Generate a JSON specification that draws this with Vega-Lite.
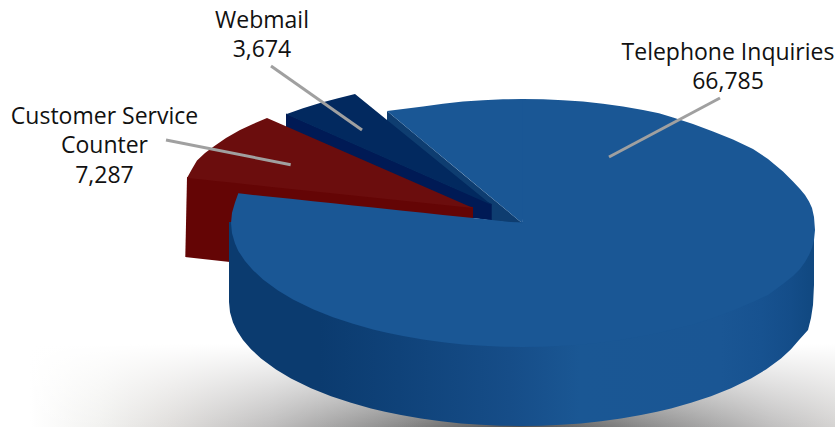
{
  "$schema": "https://vega.github.io/schema/vega-lite/v6.json",
  "width": 835,
  "height": 427,
  "padding": 0,
  "autosize": {"type": "none"},
  "background": "#ffffff",
  "view": {"stroke": null},
  "datasets": {
    "floorShadow": [
      {"x": 20, "y": 335, "y2": 427},
      {"x": 1020, "y": 335, "y2": 427}
    ],
    "telephoneWall": [
      {"x":229,"y":222,"y2":302},{"x":230,"y":222,"y2":312.3},{"x":233,"y":222,"y2":322.4},{"x":237,"y":222,"y2":330.8},{"x":243,"y":222,"y2":339.9},{"x":251,"y":222,"y2":349.2},{"x":261,"y":222,"y2":358.4},{"x":276,"y":222,"y2":369.5},{"x":291,"y":222,"y2":378.4},{"x":311,"y":222,"y2":388.2},{"x":331,"y":222,"y2":396.2},{"x":351,"y":222,"y2":402.8},{"x":371,"y":222,"y2":408.4},{"x":385,"y":222,"y2":411.7},{"x":401,"y":222,"y2":415},{"x":421,"y":222,"y2":418.5},{"x":441,"y":222,"y2":421.3},{"x":461,"y":222,"y2":423.4},{"x":481,"y":222,"y2":424.8},{"x":501,"y":222,"y2":425.7},{"x":521,"y":222,"y2":426},{"x":541,"y":222,"y2":425.7},{"x":561,"y":222,"y2":424.8},{"x":581,"y":222,"y2":423.4},{"x":601,"y":222,"y2":421.3},{"x":621,"y":222,"y2":418.5},{"x":641,"y":222,"y2":415},{"x":657,"y":222,"y2":411.7},{"x":671,"y":222,"y2":408.4},{"x":691,"y":222,"y2":402.8},{"x":711,"y":222,"y2":396.2},{"x":731,"y":222,"y2":388.2},{"x":751,"y":222,"y2":378.4},{"x":766,"y":222,"y2":369.5},{"x":781,"y":222,"y2":358.4},{"x":791,"y":222,"y2":349.2},{"x":799,"y":222,"y2":339.9},{"x":808,"y":222,"y2":330},{"x":811,"y":222,"y2":318},{"x":813,"y":222,"y2":305},{"x":814,"y":222,"y2":285}
    ],
    "telephoneCutWall": [
      {"x":387,"y":111,"y2":125},{"x":491.7,"y":197.9,"y2":221},{"x":522.3,"y":223.3,"y2":223.3}
    ],
    "webmailCutWall": [
      {"x":286,"y":113.5,"y2":127},{"x":473,"y":196,"y2":218},{"x":491.7,"y":204,"y2":220.5}
    ],
    "webmailTop": [
      {"x":286,"y":114.3,"y2":114.3},{"x":303,"y":108.2,"y2":121.8},{"x":320,"y":103,"y2":129.3},{"x":338,"y":98.2,"y2":137.2},{"x":355,"y":94,"y2":144.7},{"x":491.7,"y":205,"y2":205}
    ],
    "counterWall": [
      {"x":185.3,"y":256.9,"y2":257},{"x":187,"y":177,"y2":257.2},{"x":230,"y":181.5,"y2":262},{"x":473,"y":207,"y2":218.5}
    ],
    "counterTop": [
      {"x":187,"y":178,"y2":178},{"x":192,"y":169,"y2":178.5},{"x":197,"y":160.5,"y2":179},{"x":205,"y":153,"y2":179.8},{"x":213,"y":147,"y2":180.7},{"x":226,"y":138,"y2":182.1},{"x":240,"y":130,"y2":183.5},{"x":253,"y":124,"y2":184.9},{"x":267,"y":118,"y2":186.4},{"x":473,"y":208,"y2":208}
    ],
    "telephoneTop": [
      {"piece":"back","x":387,"y":111,"y2":111},{"piece":"back","x":403,"y":109,"y2":124.3},{"piece":"back","x":423,"y":106.5,"y2":140.9},{"piece":"back","x":443,"y":103.7,"y2":157.5},{"piece":"back","x":463,"y":101.6,"y2":174.1},{"piece":"back","x":483,"y":100.2,"y2":190.7},{"piece":"back","x":503,"y":99.3,"y2":207.3},{"piece":"back","x":522.3,"y":99,"y2":223.3},{"piece":"back","x":526,"y":99,"y2":200},
      {"piece":"front","x":231,"y":223,"y2":223},{"piece":"front","x":232,"y":212.7,"y2":233.3},{"piece":"front","x":235,"y":202.6,"y2":243.4},{"piece":"front","x":238.3,"y":193.3,"y2":251},{"piece":"front","x":245,"y":194,"y2":260.9},{"piece":"front","x":253,"y":194.9,"y2":270.2},{"piece":"front","x":263,"y":195.9,"y2":279.4},{"piece":"front","x":278,"y":197.5,"y2":290.5},{"piece":"front","x":293,"y":199.1,"y2":299.4},{"piece":"front","x":313,"y":201.2,"y2":309.2},{"piece":"front","x":333,"y":203.3,"y2":317.2},{"piece":"front","x":353,"y":205.4,"y2":323.8},{"piece":"front","x":373,"y":207.6,"y2":329.4},{"piece":"front","x":387,"y":209,"y2":332.7},{"piece":"front","x":403,"y":210.7,"y2":336},{"piece":"front","x":423,"y":212.8,"y2":339.5},{"piece":"front","x":443,"y":214.9,"y2":342.3},{"piece":"front","x":463,"y":217,"y2":344.4},{"piece":"front","x":483,"y":219.1,"y2":345.8},{"piece":"front","x":503,"y":221.2,"y2":346.7},{"piece":"front","x":522.3,"y":223.3,"y2":347},{"piece":"front","x":522.3,"y":99,"y2":347},{"piece":"front","x":543,"y":99.3,"y2":346.7},{"piece":"front","x":563,"y":100.2,"y2":345.8},{"piece":"front","x":583,"y":101.6,"y2":344.4},{"piece":"front","x":603,"y":103.7,"y2":342.3},{"piece":"front","x":623,"y":106.5,"y2":339.5},{"piece":"front","x":643,"y":110,"y2":336},{"piece":"front","x":659,"y":113.3,"y2":332.7},{"piece":"front","x":673,"y":117.5,"y2":329.4},{"piece":"front","x":693,"y":124,"y2":324.5},{"piece":"front","x":713,"y":131.5,"y2":318},{"piece":"front","x":733,"y":139.5,"y2":310.5},{"piece":"front","x":753,"y":149,"y2":302},{"piece":"front","x":768,"y":159,"y2":295},{"piece":"front","x":783,"y":171.5,"y2":284},{"piece":"front","x":793,"y":181.5,"y2":276},{"piece":"front","x":800,"y":189,"y2":269},{"piece":"front","x":805,"y":195,"y2":262},{"piece":"front","x":809,"y":201.5,"y2":255},{"piece":"front","x":812,"y":208,"y2":248},{"piece":"front","x":814,"y":217,"y2":240},{"piece":"front","x":815,"y":230,"y2":230}
    ],
    "leaders": [
      {"channel":"Webmail","x":271,"y":66,"x2":362,"y2":130},
      {"channel":"Customer Service Counter","x":166,"y":140,"x2":290.7,"y2":164.7},
      {"channel":"Telephone Inquiries","x":720,"y":98,"x2":609,"y2":157}
    ],
    "nameLines": [
      {"line":"Telephone Inquiries","x":728,"y":60},
      {"line":"Webmail","x":262,"y":28},
      {"line":"Customer Service","x":104.5,"y":124},
      {"line":"Counter","x":104.5,"y":153}
    ],
    "counts": [
      {"channel":"Telephone Inquiries","count":66785,"x":728,"y":89},
      {"channel":"Webmail","count":3674,"x":262,"y":57},
      {"channel":"Customer Service Counter","count":7287,"x":104.5,"y":183}
    ]
  },
  "encoding": {
    "x": {"field": "x", "type": "quantitative", "scale": {"domain": [0, 835], "nice": false, "zero": false}, "axis": null},
    "y": {"field": "y", "type": "quantitative", "scale": {"domain": [0, 427], "nice": false, "zero": false, "reverse": true}, "axis": null, "stack": null}
  },
  "layer": [
    {
      "description": "Floor shadow: horizontal falloff",
      "data": {"name": "floorShadow"},
      "mark": {"type": "area", "orient": "vertical", "clip": true, "color": {"gradient": "linear", "x1": 0, "y1": 0, "x2": 1, "y2": 0, "stops": [
        {"offset": 0, "color": "#ffffff"}, {"offset": 0.01, "color": "#ffffff"}, {"offset": 0.08, "color": "#f2f2f0"}, {"offset": 0.15, "color": "#e0dedc"}, {"offset": 0.25, "color": "#c0bfbf"}, {"offset": 0.38, "color": "#8a8a8a"}, {"offset": 0.5, "color": "#4f4f4f"}, {"offset": 0.62, "color": "#8a8a8a"}, {"offset": 0.75, "color": "#c0bfbf"}, {"offset": 0.85, "color": "#e0dedc"}, {"offset": 0.92, "color": "#f2f2f0"}, {"offset": 1, "color": "#ffffff"}
      ]}},
      "encoding": {"y2": {"field": "y2"}}
    },
    {
      "description": "Floor shadow: vertical fade to the white background",
      "data": {"name": "floorShadow"},
      "mark": {"type": "area", "orient": "vertical", "clip": true, "color": {"gradient": "linear", "x1": 0, "y1": 0, "x2": 0, "y2": 1, "stops": [
        {"offset": 0, "color": "rgba(255,255,255,1)"}, {"offset": 0.1, "color": "rgba(255,255,255,1)"}, {"offset": 1, "color": "rgba(255,255,255,0)"}
      ]}},
      "encoding": {"y2": {"field": "y2"}}
    },
    {
      "data": {"name": "telephoneCutWall"},
      "mark": {"type": "area", "orient": "vertical", "color": "#0e3d70"},
      "encoding": {"y2": {"field": "y2"}}
    },
    {
      "data": {"name": "webmailCutWall"},
      "mark": {"type": "area", "orient": "vertical", "color": "#001a55"},
      "encoding": {"y2": {"field": "y2"}}
    },
    {
      "data": {"name": "webmailTop"},
      "mark": {"type": "area", "orient": "vertical", "color": "#02295f"},
      "encoding": {"y2": {"field": "y2"}}
    },
    {
      "data": {"name": "counterWall"},
      "mark": {"type": "area", "orient": "vertical", "color": "#640505"},
      "encoding": {"y2": {"field": "y2"}}
    },
    {
      "data": {"name": "counterTop"},
      "mark": {"type": "area", "orient": "vertical", "color": "#6b0d0d"},
      "encoding": {"y2": {"field": "y2"}}
    },
    {
      "description": "Outer wall of the large slice, in front of the pulled-out wedges",
      "data": {"name": "telephoneWall"},
      "mark": {"type": "area", "orient": "vertical", "color": {"gradient": "linear", "x1": 0, "y1": 0, "x2": 1, "y2": 0, "stops": [
        {"offset": 0, "color": "#0b3b6f"}, {"offset": 0.155, "color": "#0b3b6f"}, {"offset": 0.29, "color": "#0f4279"}, {"offset": 0.48, "color": "#164d88"}, {"offset": 0.6, "color": "#1a5794"}, {"offset": 0.84, "color": "#1a5694"}, {"offset": 0.91, "color": "#175290"}, {"offset": 0.96, "color": "#144d89"}, {"offset": 1, "color": "#104880"}
      ]}},
      "encoding": {"y2": {"field": "y2"}}
    },
    {
      "description": "Top face of the large slice, split around the wedge notch",
      "data": {"name": "telephoneTop"},
      "mark": {"type": "area", "orient": "vertical", "color": "#1a5795"},
      "encoding": {"y2": {"field": "y2"}, "detail": {"field": "piece"}}
    },
    {
      "data": {"name": "leaders"},
      "mark": {"type": "rule", "color": "#a0a0a0", "strokeWidth": 3},
      "encoding": {"x2": {"field": "x2"}, "y2": {"field": "y2"}}
    },
    {
      "data": {"name": "nameLines"},
      "mark": {"type": "text", "font": "Open Sans", "fontSize": 23, "color": "#111111", "align": "center", "baseline": "alphabetic"},
      "encoding": {"text": {"field": "line"}}
    },
    {
      "data": {"name": "counts"},
      "mark": {"type": "text", "font": "Open Sans", "fontSize": 23, "color": "#111111", "align": "center", "baseline": "alphabetic"},
      "encoding": {"text": {"field": "count", "type": "quantitative", "format": ","}}
    }
  ]
}
